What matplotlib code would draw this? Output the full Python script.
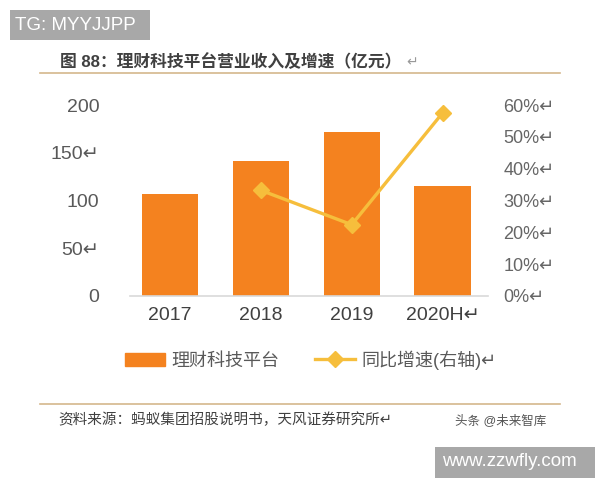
import matplotlib
matplotlib.use("Agg")
import matplotlib.pyplot as plt
from matplotlib.patches import Patch, Rectangle
from matplotlib.lines import Line2D

plt.rcParams['font.family'] = ['Liberation Sans', 'Noto Sans CJK SC', 'DejaVu Sans']

years = ['2017', '2018', '2019', '2020H↵']
revenue = [106.4, 141.4, 172.0, 114.9]
growth_years = [1, 2, 3]
growth = [0.332, 0.224, 0.575]
left_ticks = [0, 50, 100, 150, 200]
left_labels = ['0', '50↵', '100', '150↵', '200']
right_ticks = [0, 0.1, 0.2, 0.3, 0.4, 0.5, 0.6]
right_labels = ['0%↵', '10%↵', '20%↵', '30%↵', '40%↵', '50%↵', '60%↵']

orange = '#F4821F'
gold = '#F6BE3C'
txt = '#595959'

fig = plt.figure(figsize=(6, 4.8), dpi=100)
ax = fig.add_axes([130/600, 1-296/480, 358/600, 191/480])

x = range(len(years))
ax.bar(x, revenue, width=0.62, color=orange, zorder=2)
ax.set_xlim(-0.44, 3.5)
ax.set_ylim(0, 200)
ax.set_xticks(list(x))
ax.set_xticklabels(years, fontsize=14, color='#404040')
ax.set_yticks(left_ticks)
ax.set_yticklabels(left_labels, fontsize=14, color=txt)
ax.tick_params(axis='y', length=0, pad=22)
ax.tick_params(axis='x', length=0, pad=8)
for s in ['top', 'right', 'left']:
    ax.spines[s].set_visible(False)
ax.spines['bottom'].set_color('#d9d9d9')
ax.spines['bottom'].set_linewidth(1.2)

ax2 = ax.twinx()
ax2.plot(growth_years, growth, color=gold, lw=2.4, marker='D', markersize=8, zorder=3)
ax2.set_ylim(0, 0.6)
ax2.set_yticks(right_ticks)
ax2.set_yticklabels(right_labels, fontsize=13, color='#666666')
ax2.tick_params(axis='y', length=0, pad=11)
for s in ['top', 'right', 'left', 'bottom']:
    ax2.spines[s].set_visible(False)

handles = [Patch(color=orange),
           Line2D([], [], color=gold, lw=2.4, marker='D', markersize=8)]
fig.legend(handles, ['理财科技平台', '同比增速(右轴)↵'], loc='center left',
           bbox_to_anchor=(125/600, 1-360/480), ncol=2, frameon=False,
           fontsize=13, labelcolor=txt, handlelength=2.2, handleheight=0.7,
           handletextpad=0.35, columnspacing=2.0, borderpad=0, borderaxespad=0)

# title and rules
fig.text(60/600, 1-62/480, '图 88：理财科技平台营业收入及增速（亿元）', fontsize=12.1,
         fontweight='bold', color='#404040', va='center')
fig.text(406/600, 1-62/480, '↵', fontsize=10, color='#999999', va='center')
fig.add_artist(Line2D([40/600, 560/600], [1-73/480, 1-73/480], color='#d4b78c', lw=1.2))
fig.add_artist(Line2D([40/600, 560/600], [1-404/480, 1-404/480], color='#d4b78c', lw=1.2))

fig.text(58/600, 1-420/480, '资料来源：蚂蚁集团招股说明书，天风证券研究所↵', fontsize=10.5,
         color='#404040', va='center')
fig.text(455/600, 1-421/480, '头条 @未来智库', fontsize=9, color='#555555', va='center')

fig.add_artist(Rectangle((10/600, 1-40/480), 140/600, 30/480, transform=fig.transFigure,
                         fc='#a8a8a8', ec='none'))
fig.text(15/600, 1-25/480, 'TG: MYYJJPP', fontsize=13.5, color='white', va='center')
fig.add_artist(Rectangle((435/600, 1-478/480), 160/600, 31/480, transform=fig.transFigure,
                         fc='#a8a8a8', ec='none'))
fig.text(442/600, 1-462/480, 'www.zzwfly.com', fontsize=13.5, color='white', va='center')

fig.savefig('out.png', dpi=100)
